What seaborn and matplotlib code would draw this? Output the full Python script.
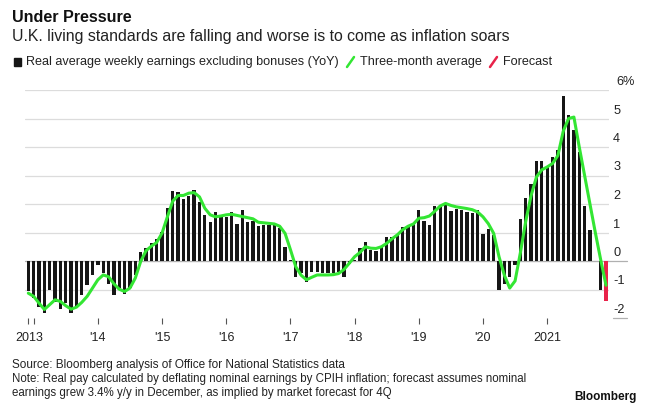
import matplotlib
matplotlib.use("Agg")
import matplotlib.pyplot as plt
from matplotlib.lines import Line2D
from matplotlib.patches import Rectangle
import matplotlib.transforms as mtransforms
import numpy as np
import pandas as pd
import seaborn as sns

# Monthly series, Dec 2012 .. Dec 2021 (last month is a forecast)
months = pd.date_range("2012-12-01", "2021-12-01", freq="MS")

real_pay_yoy = [
    -1.07, -1.30, -1.62, -1.82, -1.00, -1.45, -1.67, -1.47, -1.83, -1.60,
    -1.18, -0.84, -0.49, -0.14, -0.42, -0.80, -1.20, -0.95, -1.15, -0.93,
    -0.49, 0.33, 0.45, 0.62, 0.77, 1.02, 1.85, 2.45, 2.42, 2.19,
    2.28, 2.48, 2.07, 1.60, 1.37, 1.72, 1.53, 1.55, 1.72, 1.31,
    1.78, 1.37, 1.41, 1.22, 1.27, 1.28, 1.26, 1.15, 0.49, 0.02,
    -0.55, -0.42, -0.75, -0.40, -0.40, -0.42, -0.42, -0.42, -0.40, -0.55,
    -0.12, 0.02, 0.44, 0.65, 0.37, 0.36, 0.50, 0.83, 0.84, 0.93,
    1.20, 1.22, 1.35, 1.80, 1.40, 1.27, 1.92, 1.90, 2.04, 1.74,
    1.82, 1.80, 1.72, 1.69, 1.80, 0.94, 1.14, 0.92, -1.00, -0.80,
    -0.55, -0.14, 1.46, 2.21, 2.69, 3.52, 3.52, 3.31, 3.65, 3.88,
    5.80, 5.12, 4.60, 3.84, 1.92, 1.10, 0.00, -1.00, -1.40,
]

three_month_avg = [
    -1.13, -1.24, -1.48, -1.70, -1.53, -1.36, -1.42, -1.57, -1.69, -1.62,
    -1.45, -1.24, -0.95, -0.66, -0.49, -0.55, -0.80, -0.99, -1.07, -0.95,
    -0.60, -0.02, 0.36, 0.52, 0.65, 0.98, 1.55, 2.10, 2.30, 2.30,
    2.38, 2.40, 2.25, 1.85, 1.62, 1.55, 1.58, 1.62, 1.64, 1.60,
    1.56, 1.52, 1.48, 1.36, 1.34, 1.32, 1.30, 1.22, 0.97, 0.40,
    -0.20, -0.50, -0.66, -0.57, -0.49, -0.49, -0.49, -0.48, -0.44, -0.30,
    -0.08, 0.15, 0.30, 0.50, 0.45, 0.44, 0.50, 0.62, 0.78, 0.92,
    1.10, 1.22, 1.30, 1.50, 1.52, 1.58, 1.75, 1.93, 2.02, 1.95,
    1.90, 1.87, 1.84, 1.80, 1.72, 1.55, 1.31, 0.97, 0.15, -0.50,
    -0.95, -0.70, 0.30, 1.40, 2.30, 2.95, 3.20, 3.30, 3.42, 3.70,
    4.55, 5.00, 5.05, 4.00, 3.00, 2.00, 1.00, 0.05, -0.85,
]

is_forecast = [False] * (len(months) - 1) + [True]

year_labels = ["2013", "'14", "'15", "'16", "'17", "'18", "'19", "'20", "2021"]
y_ticks = [-2, -1, 0, 1, 2, 3, 4, 5, 6]

df = pd.DataFrame({
    "month": months,
    "pos": np.arange(len(months)),
    "value": real_pay_yoy,
    "avg": three_month_avg,
    "kind": np.where(is_forecast, "Forecast", "Actual"),
})

W, H = 649, 403
BAR = "#161616"
GREEN = "#33e633"
RED = "#e8234a"
GRID = "#dcdcdc"
TEXT = "#222222"
FONT = ["Liberation Sans", "DejaVu Sans"]

sns.set_theme(style="white")
plt.rcParams["font.family"] = FONT

fig = plt.figure(figsize=(W / 100, H / 100), dpi=100)
fig.patch.set_facecolor("white")


def fx(px):
    return px / W


def fy(py):
    return 1 - py / H


# plot area: x 25..609 px, y 90..318 px
ax = fig.add_axes([fx(25), fy(318), fx(609) - fx(25), fy(90) - fy(318)])
ax.set_facecolor("white")

for v in y_ticks[1:]:
    ax.axhline(v, color=GRID, lw=0.9, zorder=0)

sns.barplot(
    data=df, x="pos", y="value", hue="kind",
    palette={"Actual": BAR, "Forecast": RED},
    dodge=False, width=0.62, errorbar=None, legend=False,
    saturation=1, linewidth=0, ax=ax, zorder=2,
)
sns.lineplot(
    data=df, x="pos", y="avg", color=GREEN, lw=2.2, ax=ax, zorder=3,
)

ax.set_xlim(-0.62, len(months) - 1 + 0.56)
ax.set_ylim(-2, 6)
for s in ax.spines.values():
    s.set_visible(False)
ax.set_xlabel("")
ax.set_ylabel("")
ax.set_yticks([])

jan_pos = df.loc[df["month"].dt.month == 1, "pos"].tolist()
ax.set_xticks(jan_pos)
ax.set_xticklabels(year_labels, fontsize=9, color=TEXT)
ax.tick_params(axis="x", direction="out", length=4, width=0.8,
               color="#555555", pad=6, bottom=True)
ax.set_xticks([0], minor=True)
ax.tick_params(axis="x", which="minor", direction="out", length=4,
               width=0.8, color="#555555", bottom=True)
# first year label sits a touch left, under the opening bars
first = ax.get_xticklabels()[0]
first.set_transform(first.get_transform() + mtransforms.ScaledTranslation(
    -4 / 100, 0, fig.dpi_scale_trans))

# zero line runs out under the right-hand labels
ax.plot([0, 1.03], [0, 0], transform=ax.get_yaxis_transform(),
        color="#b0b0b0", lw=0.9, clip_on=False, zorder=1)
ax.plot([1.007, 1.03], [-2, -2], transform=ax.get_yaxis_transform(),
        color="#b0b0b0", lw=0.9, clip_on=False, zorder=1)

# right-hand value labels sit just above their gridlines
lab_tr = ax.get_yaxis_transform() + mtransforms.ScaledTranslation(
    0, 5 / 100, fig.dpi_scale_trans)
for v in y_ticks:
    txt = f"{v}%" if v == 6 else (f"-{abs(v)}" if v < 0 else str(v))
    ax.text(1.007 if v != 6 else 1.013, v, txt, transform=lab_tr,
            ha="left", va="baseline", fontsize=9.2, color=TEXT)

# headline block
fig.text(fx(12), fy(17), "Under Pressure", fontsize=11.6, fontweight="bold",
         color="#111111", va="center", ha="left")
fig.text(fx(12), fy(37),
         "U.K. living standards are falling and worse is to come as inflation soars",
         fontsize=11.4, color=TEXT, va="center", ha="left")

# legend row
ly = 62
fig.patches.append(Rectangle((fx(14), fy(ly + 4)), fx(7), fy(ly - 4) - fy(ly + 4),
                             transform=fig.transFigure, color=BAR))
fig.text(fx(26), fy(ly), "Real average weekly earnings excluding bonuses (YoY)",
         fontsize=9.1, color=TEXT, va="center", ha="left")
fig.lines.append(Line2D([fx(347), fx(354)], [fy(ly + 5), fy(ly - 5)],
                        transform=fig.transFigure, color=GREEN, lw=1.8))
fig.text(fx(360), fy(ly), "Three-month average",
         fontsize=9.1, color=TEXT, va="center", ha="left")
fig.lines.append(Line2D([fx(490), fx(497)], [fy(ly + 5), fy(ly - 5)],
                        transform=fig.transFigure, color=RED, lw=1.8))
fig.text(fx(503), fy(ly), "Forecast",
         fontsize=9.1, color=TEXT, va="center", ha="left")

# footer
fig.text(fx(12), fy(365), "Source: Bloomberg analysis of Office for National Statistics data",
         fontsize=8.5, color=TEXT, va="center", ha="left")
fig.text(fx(12), fy(379),
         "Note: Real pay calculated by deflating nominal earnings by CPIH inflation; "
         "forecast assumes nominal",
         fontsize=8.3, color=TEXT, va="center", ha="left")
fig.text(fx(12), fy(393),
         "earnings grew 3.4% y/y in December, as implied by market forecast for 4Q",
         fontsize=8.3, color=TEXT, va="center", ha="left")
fig.text(fx(637), fy(397), "Bloomberg", fontsize=8.5, fontweight="bold",
         color="#111111", va="center", ha="right")

fig.savefig("out.png", dpi=100, facecolor="white")
